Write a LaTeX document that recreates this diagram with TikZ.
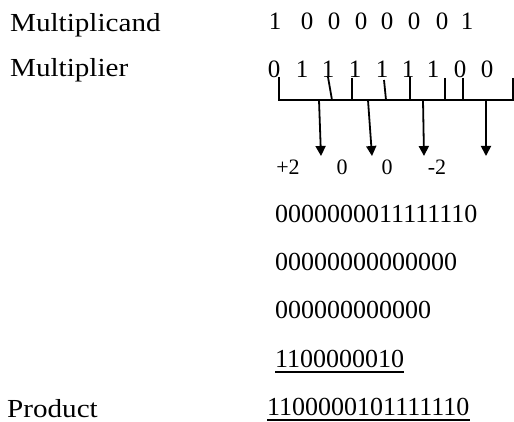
\documentclass[tikz,border=0pt]{standalone}
\usepackage{fontspec}
\setmainfont{Liberation Serif}
\newfontfamily\labfont[FakeStretch=1.12]{Liberation Serif}
\usetikzlibrary{arrows.meta}
\begin{document}
\begin{tikzpicture}[x=1pt,y=-1pt,
  lab/.style={inner sep=0pt, anchor=base west, font=\labfont\fontsize{26}{30}\selectfont},
  dig/.style={inner sep=0pt, anchor=base, font=\fontsize{25}{28}\selectfont},
  row/.style={inner sep=0pt, anchor=base west, font=\fontsize{26}{30}\selectfont},
  small/.style={inner sep=0pt, anchor=base, font=\fontsize{22}{26}\selectfont},
  ln/.style={line width=1.8pt, line join=miter},
  arr/.style={line width=1.8pt, -{Triangle[length=10pt,width=10pt]}},
  ul/.style={line width=1.5pt}]
\useasboundingbox (0,0) rectangle (514,422);
% labels
\node[lab] (mcand) at (10,32) {Multiplicand};
\node[lab] (mplier) at (10,77) {Multiplier};
\node[lab] (prodl) at (7,417) {Product};
% multiplicand digits
\foreach \x/\d [count=\i] in {275/1,307/0,334/0,361/0,387/0,414/0,442/0,467/1}
  \node[dig] (a\i) at (\x,30) {\d};
% multiplier digits
\foreach \x/\d [count=\i] in {274/0,302/1,328/1,355/1,382/1,408/1,433/1,460/0,487/0}
  \node[dig] (b\i) at (\x,78) {\d};
% grouping lines
\coordinate (T0) at (279,77);
\coordinate (L) at (279,100);
\coordinate (R) at (514,100);
\draw[ln] (T0) -- (L) -- (R);
\foreach \xa/\ya/\xb in {328/77/332, 352/78/352, 384/80/386, 410/77/410, 445/78/445, 463/78/463, 513/78/513}
  \draw[ln] (\xa,\ya) -- (\xb,100);
% arrows
\foreach \xa/\xb in {319/321,368/372,423/424,486/486}
  \draw[arr] (\xa,100) -- (\xb,156);
% recoded digits
\node[small] (c1) at (288,175) {+2};
\node[small] (c2) at (342,175) {0};
\node[small] (c3) at (387,175) {0};
\node[small] (c4) at (437,175) {-2};
% partial products
\node[row] (r1) at (275,223) {0000000011111110};
\node[row] (r2) at (275,270) {00000000000000};
\node[row] (r3) at (275,318) {000000000000};
\node[row] (r4) at (275,367) {1100000010};
\node[row] (pr) at (267,415) {1100000101111110};
\draw[ul] ([yshift=-5pt]r4.base west) -- ([yshift=-5pt]r4.base east);
\draw[ul] ([yshift=-5pt]pr.base west) -- ([yshift=-5pt]pr.base east);
\end{tikzpicture}
\end{document}
